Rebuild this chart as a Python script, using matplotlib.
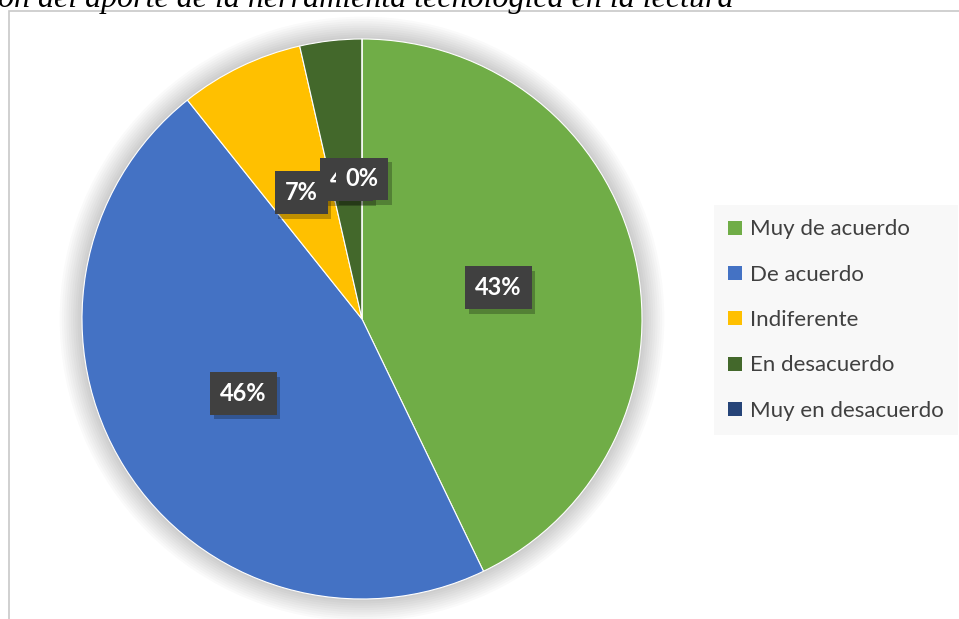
import matplotlib.pyplot as plt
from matplotlib.patches import Rectangle, Patch, Circle

# datos (28 respuestas)
categorias = ['Muy de acuerdo', 'De acuerdo', 'Indiferente', 'En desacuerdo', 'Muy en desacuerdo']
respuestas = [12, 13, 2, 1, 0]
colores = ['#70AD47', '#4472C4', '#FFC000', '#43682B', '#264478']
titulo = 'ón del aporte de la herramienta tecnológica en la lectura'

W, H = 959, 619
fig = plt.figure(figsize=(W / 100, H / 100), dpi=100)

# marco del grafico
fig.patches.append(Rectangle((9 / W, -0.1), 1.1, 1.1 - 11 / H, transform=fig.transFigure,
                             facecolor='none', edgecolor='#c8c8c8', linewidth=1.2, zorder=0))

fig.text(-0.002, 1 - 7 / H, titulo, fontsize=23, family='Liberation Serif', style='italic',
         va='baseline', ha='left', color='black')

cx, cy, R = 362, 319, 280
ax = fig.add_axes([(cx - R) / W, (H - cy - R) / H, 2 * R / W, 2 * R / H], zorder=2)

# sombra suave alrededor del pastel
for i in range(10):
    ax.add_patch(Circle((0, 0), 1.0 + 0.008 * (i + 1), facecolor='black', alpha=0.018,
                        edgecolor='none', zorder=0, clip_on=False))

wedges, textos, pcts = ax.pie(respuestas, colors=colores, startangle=90, counterclock=False,
                              autopct='%.0f%%', pctdistance=0.5,
                              wedgeprops=dict(edgecolor='white', linewidth=0.8, zorder=1))
ax.set_xlim(-1, 1)
ax.set_ylim(-1, 1)
ax.set_aspect('equal')

for t in pcts:
    x, y = t.get_position()
    # sombra de la etiqueta
    ax.text(x + 0.012, y - 0.016, t.get_text(), fontsize=17, fontweight='bold', family='Lato',
            color='none', ha='center', va='center', zorder=4,
            bbox=dict(boxstyle='square,pad=0.42', facecolor='#000000', alpha=0.25, edgecolor='none'))
    t.set_fontsize(17)
    t.set_fontweight('bold')
    t.set_family('Lato')
    t.set_color('white')
    t.set_bbox(dict(boxstyle='square,pad=0.42', facecolor='#404040', edgecolor='none'))
    t.set_zorder(5)

handles = [Patch(facecolor=c, edgecolor='none') for c in colores]
leg = fig.legend(handles, categorias, loc='upper left', bbox_to_anchor=(714 / W, 1 - 205 / H),
                 frameon=True, fancybox=False, facecolor='#f8f8f8', edgecolor='none', framealpha=1,
                 prop=dict(family='Lato', size=16), labelcolor='#404040',
                 handlelength=0.6, handleheight=0.6, handletextpad=0.35,
                 labelspacing=1.14, borderpad=0.65, borderaxespad=0)

fig.savefig('out.png', dpi=100)
